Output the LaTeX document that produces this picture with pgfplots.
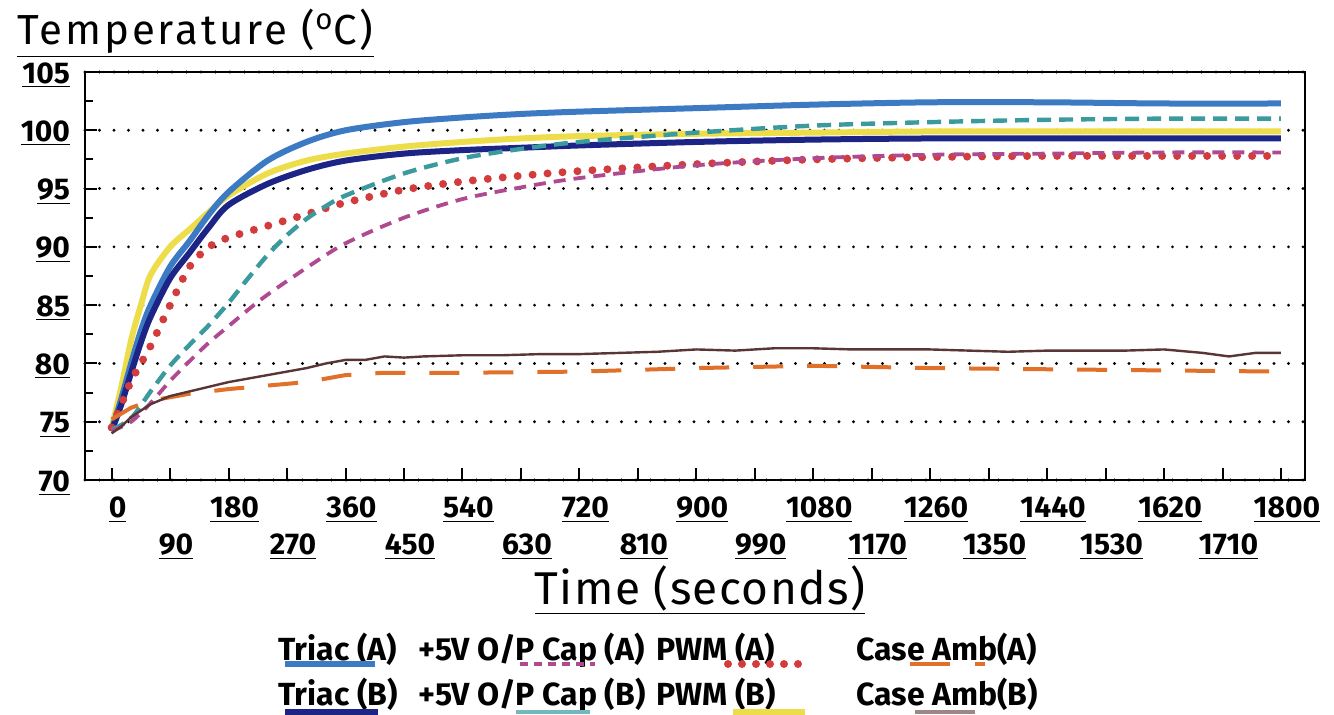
\documentclass[border=0pt]{standalone}
\usepackage{fontspec}
\setmainfont{Fira Sans}
\usepackage{pgfplots}
\pgfplotsset{compat=1.18}
\definecolor{triacA}{HTML}{3C7BC4}
\definecolor{triacB}{HTML}{1C2585}
\definecolor{capA}{HTML}{B04A90}
\definecolor{capB}{HTML}{3A9A9E}
\definecolor{pwmA}{HTML}{D23C3C}
\definecolor{pwmB}{HTML}{EEDD4A}
\definecolor{ambA}{HTML}{E0702A}
\definecolor{ambB}{HTML}{5A3535}
\newcommand{\tl}[1]{\underline{#1}}
\begin{document}
\begin{tikzpicture}[x=1pt,y=1pt]
\useasboundingbox (0,0) rectangle (667,357);
\begin{axis}[
  at={(42.5pt,117pt)}, anchor=south west,
  scale only axis, width=610pt, height=204pt,
  xmin=-41, xmax=1837, ymin=70, ymax=105,
  axis line style={line width=1.2pt},
  /pgf/number format/assume math mode=true,
  xtick={0,180,...,1800},
  xticklabels={\tl{0},\tl{180},\tl{360},\tl{540},\tl{720},\tl{900},\tl{1080},\tl{1260},\tl{1440},\tl{1620},\tl{1800}},
  extra x ticks={90,270,...,1710},
  extra x tick labels={\tl{90},\tl{270},\tl{450},\tl{630},\tl{810},\tl{990},\tl{1170},\tl{1350},\tl{1530},\tl{1710}},
  extra x tick style={xticklabel style={yshift=-18.5pt}},
  xticklabel style={font=\bfseries\fontsize{15}{15}\selectfont, yshift=-5pt, xshift=3pt},
  ytick={70,75,...,105},
  yticklabels={\tl{70},\tl{75},\tl{80},\tl{85},\tl{90},\tl{95},\tl{100},\tl{105}},
  minor ytick={72.5,77.5,...,102.5},
  yticklabel style={font=\bfseries\fontsize{15}{15}\selectfont, xshift=-4pt, yshift=-1.5pt},
  xtick pos=bottom, ytick pos=left, tick align=inside,
  major tick length=6pt, minor tick length=4pt,
  tick style={black, line width=1pt},
  ymajorgrids,
  grid style={black, line width=1.6pt, dash pattern=on 0pt off 7.25pt, line cap=round},
  xlabel={\addfontfeature{LetterSpace=3}\underline{Time (seconds)}},
  xlabel style={font=\fontsize{23}{24}\selectfont, at={(axis description cs:0.504,-0.27)}, anchor=center},
  ylabel={\addfontfeature{LetterSpace=7}\underline{Temperature (\textsuperscript{o}C)}},
  ylabel style={font=\fontsize{21}{22}\selectfont, rotate=-90, at={(axis description cs:-0.0615,1.095)}, anchor=west},
]
% PWM (B) yellow
\addplot[pwmB, line width=3pt, smooth] coordinates {
(0,74.5)(15,78)(30,82)(45,85)(60,87.6)(90,90.0)(120,91.5)(150,93.0)(180,94.4)(240,96.3)(300,97.4)(360,98.0)(450,98.6)(540,99.0)(630,99.3)(720,99.5)(900,99.7)(1080,99.8)(1260,99.9)(1440,99.9)(1620,99.9)(1800,99.9)};
% Triac (A) blue
\addplot[triacA, line width=3pt, smooth] coordinates {
(0,74.3)(15,77)(30,80)(45,82.8)(60,85)(90,88.3)(120,90.5)(150,92.8)(180,94.7)(240,97.4)(300,99.0)(360,100.0)(450,100.7)(540,101.1)(630,101.4)(720,101.6)(900,101.9)(1080,102.2)(1260,102.4)(1440,102.4)(1620,102.3)(1800,102.3)};
% Triac (B) navy
\addplot[triacB, line width=3pt, smooth] coordinates {
(0,74.2)(15,76.5)(30,79.2)(45,81.8)(60,84.0)(90,87.3)(120,89.5)(150,91.7)(180,93.6)(240,95.4)(300,96.6)(360,97.4)(450,98.0)(540,98.3)(630,98.5)(720,98.7)(900,99.0)(1080,99.2)(1260,99.3)(1440,99.3)(1620,99.3)(1800,99.3)};
% PWM (A) red dotted
\addplot[pwmA, line width=4pt, line cap=round, dash pattern=on 0pt off 7.5pt, smooth] coordinates {
(0,74.5)(15,76.5)(30,78.5)(45,80.0)(60,81.5)(90,85.0)(120,88.3)(150,90.0)(180,90.8)(240,91.8)(300,92.8)(360,93.8)(450,94.9)(540,95.6)(630,96.1)(720,96.5)(900,97.1)(1080,97.5)(1260,97.7)(1440,97.8)(1620,97.8)(1800,97.8)};
% +5V O/P Cap (B) teal dashed
\addplot[capB, line width=2.2pt, dash pattern=on 7pt off 4pt, smooth] coordinates {
(0,74.3)(30,75.3)(60,77.6)(90,79.8)(120,81.6)(150,83.3)(180,85.2)(210,87.3)(240,89.3)(270,91.0)(300,92.4)(330,93.5)(360,94.4)(450,96.3)(540,97.6)(630,98.4)(720,99.0)(900,99.8)(1080,100.4)(1260,100.7)(1440,100.9)(1620,101.0)(1800,101.0)};
% +5V O/P Cap (A) magenta dashed
\addplot[capA, line width=1.9pt, dash pattern=on 6pt off 4pt, smooth] coordinates {
(0,74.2)(30,75.0)(60,76.6)(90,78.5)(120,80.2)(150,81.8)(180,83.2)(210,84.6)(240,85.9)(300,88.2)(360,90.3)(450,92.5)(540,94.1)(630,95.1)(720,95.9)(900,97.0)(1080,97.6)(1260,97.9)(1440,98.0)(1620,98.1)(1800,98.1)};
% Case Amb (A) orange dashed
\addplot[ambA, line width=2pt, dash pattern=on 15pt off 12pt] coordinates {
(0,75.2)(30,76.2)(60,76.8)(90,77.1)(120,77.4)(180,77.8)(240,78.1)(300,78.4)(360,79.0)(420,79.2)(540,79.2)(720,79.3)(900,79.6)(1080,79.8)(1260,79.6)(1440,79.5)(1620,79.4)(1800,79.3)};
% Case Amb (B) brown
\addplot[ambB, line width=1.2pt] coordinates {
(0,74.0)(15,74.6)(30,75.4)(60,76.5)(90,77.2)(120,77.6)(150,78.0)(180,78.4)(210,78.7)(240,79.0)(270,79.3)(300,79.6)(330,80.0)(360,80.3)(390,80.3)(420,80.6)(450,80.5)(480,80.6)(540,80.7)(600,80.7)(660,80.8)(720,80.8)(780,80.9)(840,81.0)(900,81.2)(960,81.1)(1020,81.3)(1080,81.3)(1140,81.2)(1200,81.2)(1260,81.2)(1320,81.1)(1380,81.0)(1440,81.1)(1500,81.1)(1560,81.1)(1620,81.2)(1680,80.9)(1720,80.6)(1760,80.9)(1800,80.9)};
\end{axis}
% legend
\begin{scope}[every node/.style={anchor=base west, inner sep=0pt, font=\bfseries\fontsize{16}{17}\selectfont}]
\node at (139,27) {Triac (A)};
\node at (209,27) {+5V O/P Cap (A)};
\node at (328,27) {PWM (A)};
\node at (428,27) {Case Amb(A)};
\node at (139,4.5) {Triac (B)};
\node at (209,4.5) {+5V O/P Cap (B)};
\node at (328,4.5) {PWM (B)};
\node at (428,4.5) {Case Amb(B)};
\end{scope}
\draw[triacA, line width=3pt] (142.5,25) -- (187.5,25);
\draw[capA, line width=2pt, dash pattern=on 4pt off 3pt] (260,25) -- (297.5,25);
\draw[pwmA, line width=4pt, line cap=round, dash pattern=on 0pt off 7pt] (364,25) -- (406,25);
\draw[ambA, line width=2pt] (455,25) -- (475,25) (487.5,25) -- (492.5,25);
\draw[triacB, line width=3pt] (142.5,1) -- (189,1);
\draw[capB!70!white, line width=2pt] (258,1) -- (295,1);
\draw[pwmB, line width=3pt] (366.5,1) -- (402.5,1);
\draw[ambB!60!white, line width=2pt] (457.5,1) -- (487.5,1);
\end{tikzpicture}
\end{document}
